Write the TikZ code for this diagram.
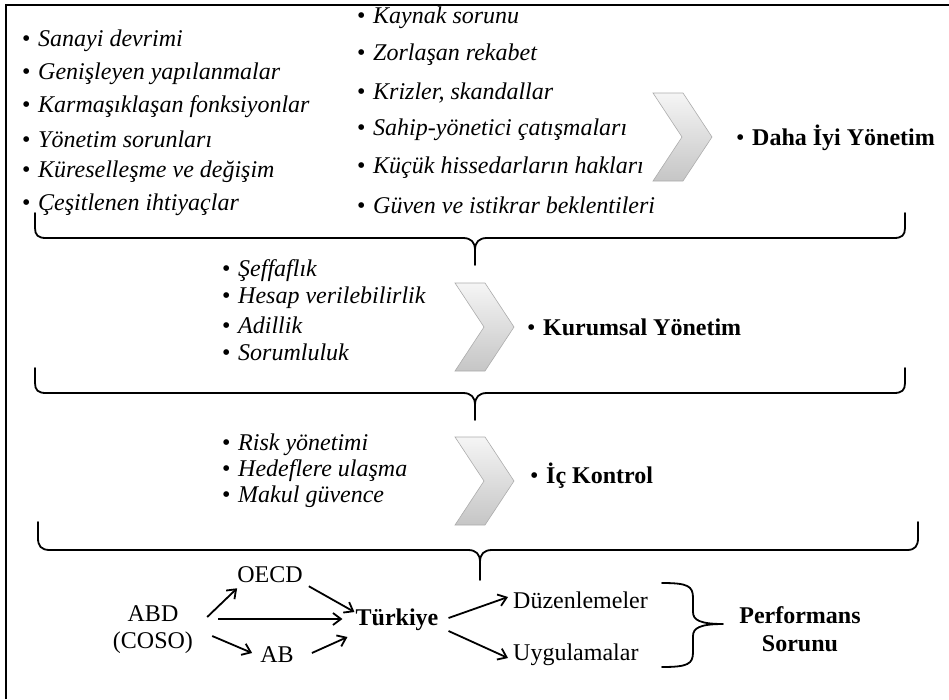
\documentclass[tikz,border=0pt]{standalone}
\usepackage{fontspec}
\setmainfont{Liberation Serif}
\usetikzlibrary{arrows.meta}

% bullet followed by an italic list entry
\newcommand\bitem[1]{\makebox[16pt][l]{\upshape\textbullet}\textit{#1}}
% bullet followed by a bold heading
\newcommand\bhead[1]{\makebox[16pt][l]{\mdseries\textbullet}\textbf{#1}}

\begin{document}
\begin{tikzpicture}[x=1pt,y=-1pt,
  every node/.style={inner sep=0pt},
  item/.style={anchor=west, font=\fontsize{24}{27}\selectfont},
  head/.style={anchor=west, font=\fontsize{24}{27}\selectfont},
  plain/.style={font=\fontsize{24}{27}\selectfont, align=center},
  bracket/.style={line width=1.8pt, line cap=round, line join=round},
  flow/.style={line width=1.8pt, -{Straight Barb[length=8pt,width=12pt]}},
  chevron/.pic={
    \draw[draw=gray!65, line width=0.6pt, top color=gray!8, bottom color=gray!45]
      (0,0) -- (30,0) -- (59,44) -- (30,88) -- (0,88) -- (29,44) -- cycle;
  }
]
\useasboundingbox (0,0) rectangle (949,699);

% outer frame (top and left edges)
\draw[line width=2pt] (6,699) -- (6,5) -- (949,5);

% ---- first block: reasons for better governance
\node[item] (l1) at (22,41)  {\bitem{Sanayi devrimi}};
\node[item] (l2) at (22,74)  {\bitem{Genişleyen yapılanmalar}};
\node[item] (l3) at (22,107) {\bitem{Karmaşıklaşan fonksiyonlar}};
\node[item] (l4) at (22,139) {\bitem{Yönetim sorunları}};
\node[item] (l5) at (22,172) {\bitem{Küreselleşme ve değişim}};
\node[item] (l6) at (22,205) {\bitem{Çeşitlenen ihtiyaçlar}};

\node[item] (r1) at (357,18)  {\bitem{Kaynak sorunu}};
\node[item] (r2) at (357,55)  {\bitem{Zorlaşan rekabet}};
\node[item] (r3) at (357,93)  {\bitem{Krizler, skandallar}};
\node[item] (r4) at (357,130) {\bitem{Sahip-yönetici çatışmaları}};
\node[item] (r5) at (357,168) {\bitem{Küçük hissedarların hakları}};
\node[item] (r6) at (357,205) {\bitem{Güven ve istikrar beklentileri}};

\pic at (653,93) {chevron};
\node[head] (h1) at (736,138) {\bhead{Daha İyi Yönetim}};

\draw[bracket] (35,213) -- (35,228) .. controls (35,235) and (38,238) .. (46,238)
  -- (463,238) .. controls (471,238) and (475,242) .. (475,250) -- (475,265);
\draw[bracket] (475,250) .. controls (475,242) and (479,238) .. (487,238)
  -- (894,238) .. controls (902,238) and (905,235) .. (905,228) -- (905,213);

% ---- second block: corporate governance principles
\node[item] (m1) at (222,271) {\bitem{Şeffaflık}};
\node[item] (m2) at (222,298) {\bitem{Hesap verilebilirlik}};
\node[item] (m3) at (222,325) {\bitem{Adillik}};
\node[item] (m4) at (222,352) {\bitem{Sorumluluk}};

\pic at (455,283) {chevron};
\node[head] (h2) at (527,327) {\bhead{Kurumsal Yönetim}};

\draw[bracket] (35,368) -- (35,383) .. controls (35,390) and (38,393) .. (46,393)
  -- (463,393) .. controls (471,393) and (475,397) .. (475,405) -- (475,420);
\draw[bracket] (475,405) .. controls (475,397) and (479,393) .. (487,393)
  -- (894,393) .. controls (902,393) and (905,390) .. (905,383) -- (905,368);

% ---- third block: internal control
\node[item] (k1) at (222,445) {\bitem{Risk yönetimi}};
\node[item] (k2) at (222,471) {\bitem{Hedeflere ulaşma}};
\node[item] (k3) at (222,497) {\bitem{Makul güvence}};

\pic at (455,437) {chevron};
\node[head] (h3) at (530,476) {\bhead{İç Kontrol}};

\draw[bracket] (38,522) -- (38,538) .. controls (38,546) and (41,550) .. (50,550)
  -- (468,550) .. controls (476,550) and (480,554) .. (480,562) -- (480,580);
\draw[bracket] (480,562) .. controls (480,554) and (484,550) .. (492,550)
  -- (907,550) .. controls (915,550) and (918,546) .. (918,538) -- (918,522);

% ---- bottom: regulation flow towards Turkey
\node[plain] (abd)  at (153,630) {ABD\\(COSO)};
\node[plain] (oecd) at (270,575) {OECD};
\node[plain] (ab)   at (277,655) {AB};
\node[plain, font=\fontsize{24}{27}\selectfont\bfseries] (tur) at (397,620) {Türkiye};
\node[plain, anchor=west] (duz) at (513,600) {Düzenlemeler};
\node[plain, anchor=west] (uyg) at (513,655) {Uygulamalar};
\node[plain, font=\fontsize{24}{28}\selectfont\bfseries] (perf) at (800,629) {Performans\\Sorunu};

\draw[flow] ([shift={(14,-13)}]abd.east) -- ([shift={(0,5)}]oecd.south west);
\draw[flow] ([shift={(25,-11)}]abd.east) -- ([shift={(-13,-1)}]tur.west);
\draw[flow] ([shift={(19,6)}]abd.east)   -- ([shift={(-8,-2)}]ab.west);
\draw[flow] ([shift={(6,3)}]oecd.south east) -- ([shift={(-1,-8)}]tur.west);
\draw[flow] ([shift={(18,-2)}]ab.east)   -- ([shift={(-8,17)}]tur.west);
\draw[flow] ([shift={(10,-2)}]tur.east)  -- ([shift={(-5,-3)}]duz.west);
\draw[flow] ([shift={(10,11)}]tur.east)  -- ([shift={(-5,3)}]uyg.west);

% brace gathering both outcomes
\draw[bracket] (662,583) .. controls (688,583) and (693,586) .. (693,598) -- (693,612)
  .. controls (693,620) and (700,624) .. (723,624)
  .. controls (700,624) and (693,628) .. (693,636) -- (693,652)
  .. controls (693,664) and (688,667) .. (662,667);
\end{tikzpicture}
\end{document}
